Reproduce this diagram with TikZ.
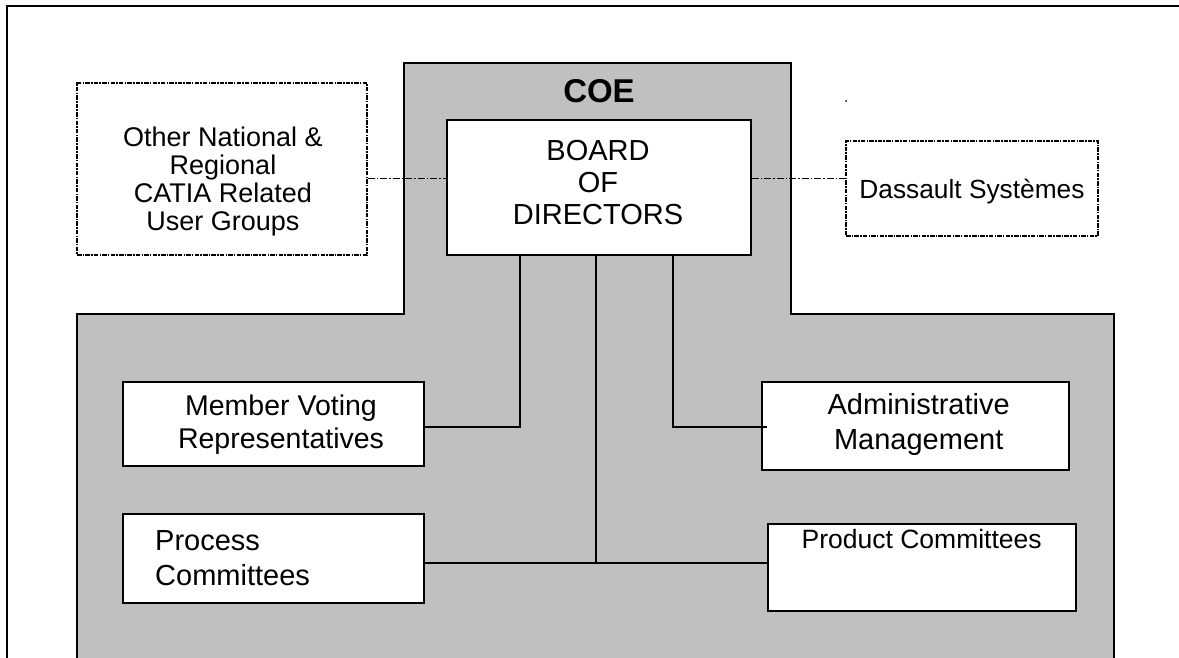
\documentclass[tikz,border=0pt]{standalone}
\usepackage{fontspec}
\setmainfont{Liberation Sans}
\definecolor{coegray}{HTML}{C0C0C0}
\begin{document}
\begin{tikzpicture}[x=1pt,y=-1pt,
  box/.style={draw=black, line width=1.5pt, fill=white, rectangle, inner sep=0pt},
  extbox/.style={draw=black, line width=1.9pt, fill=white, rectangle, inner sep=0pt,
    dash pattern=on 4.5pt off 1.2pt on 1.5pt off 1.2pt},
  txt/.style={inner sep=0pt, align=center},
  conn/.style={draw=black, line width=1.4pt},
  dconn/.style={draw=black, line width=0.9pt, dash pattern=on 7pt off 2pt on 1.5pt off 2pt},
]
\useasboundingbox (0,0) rectangle (1179,658);
\fill[white] (0,0) rectangle (1179,658);
% outer frame
\draw[line width=2pt] (7,660) -- (7,6) -- (1181,6);
% COE area
\fill[coegray] (77,660) -- (77,314) -- (404,314) -- (404,63) -- (791,63) -- (791,314) -- (1114,314) -- (1114,660) -- cycle;
\draw[line width=1.8pt] (77,662) -- (77,314) -- (404,314) -- (404,63) -- (791,63) -- (791,314) -- (1114,314) -- (1114,662);
\node[txt, anchor=base, font=\fontsize{33pt}{38pt}\selectfont\bfseries] (coe) at (599,103) {COE};

% boxes
\node[extbox, minimum width=290pt, minimum height=172pt] (other) at (222,169) {};
\node[box, minimum width=304pt, minimum height=135pt] (board) at (599,187.5) {};
\node[extbox, minimum width=252pt, minimum height=95pt] (dassault) at (972,188.5) {};
\node[box, minimum width=301pt, minimum height=84pt] (member) at (273.5,424) {};
\node[box, minimum width=307pt, minimum height=88pt] (admin) at (915.5,426) {};
\node[box, minimum width=301pt, minimum height=89pt] (process) at (273.5,558.5) {};
\node[box, minimum width=308pt, minimum height=87pt] (product) at (922,567.5) {};

% texts
\node[txt, font=\fontsize{27pt}{28.3pt}\selectfont] (othertxt) at (223,181.5) {Other National \&\\Regional\\CATIA Related\\User Groups};
\node[txt, font=\fontsize{29pt}{32pt}\selectfont] (boardtxt) at (598,183) {BOARD\\OF\\DIRECTORS};
\node[txt, anchor=base, font=\fontsize{26.3pt}{30pt}\selectfont] (dassaulttxt) at (972,199) {Dassault Systèmes};
\node[txt, font=\fontsize{28.5pt}{33pt}\selectfont] (membertxt) at (281,425) {Member Voting\\Representatives};
\node[txt, font=\fontsize{29pt}{35pt}\selectfont] (admintxt) at (918.7,425) {Administrative\\Management};
\node[txt, align=left, anchor=west, font=\fontsize{29pt}{35pt}\selectfont] (processtxt) at (155,558) {Process\\Committees};
\node[txt, anchor=base, font=\fontsize{26.5pt}{30pt}\selectfont] (producttxt) at (921.7,548) {Product Committees};

% connectors
\coordinate (lj) at (0,178);
\draw[dconn] (other.east |- lj) -- (board.west |- lj);
\draw[dconn] (board.east |- lj) -- (dassault.west |- lj);
\coordinate (jl) at (520,427);
\coordinate (jr) at (673,427);
\coordinate (jn) at (596,563);
\draw[conn] (board.south -| jl) -- (jl) -- (member.east |- jl);
\draw[conn] (board.south -| jr) -- (jr) -- ([xshift=6pt]admin.west |- jr);
\draw[conn] (board.south -| jn) -- (jn);
\draw[conn] (process.east |- jn) -- (product.west |- jn);

% stray dot
\fill (846,101) circle (1pt);
\end{tikzpicture}
\end{document}
